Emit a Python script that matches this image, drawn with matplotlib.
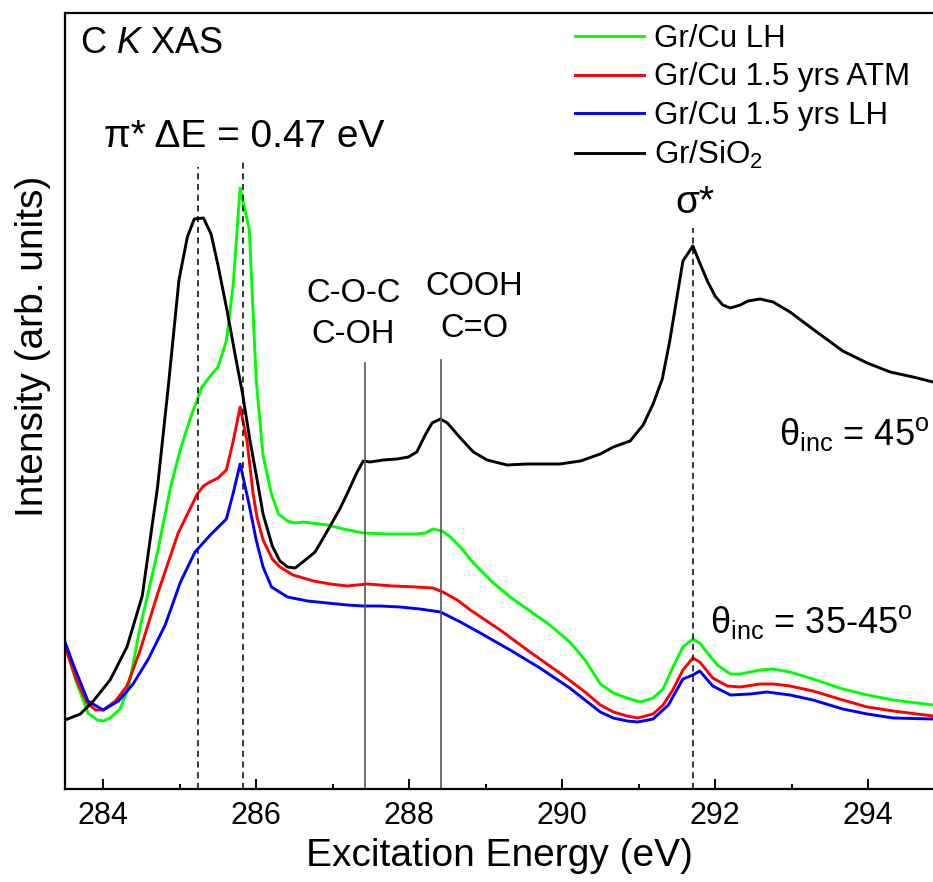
import matplotlib
matplotlib.use("Agg")
import matplotlib.pyplot as plt
from matplotlib.ticker import MultipleLocator

plt.rcParams["font.family"] = ["Liberation Sans", "DejaVu Sans"]
plt.rcParams["mathtext.fontset"] = "custom"
plt.rcParams["mathtext.rm"] = "Liberation Sans"
plt.rcParams["mathtext.it"] = "Liberation Sans:italic"

# Gr/SiO2 (black)
e_sio2 = [283.50, 283.70, 283.87, 284.09, 284.31, 284.51, 284.71, 284.85, 284.99, 285.10,
          285.19, 285.31, 285.41, 285.50, 285.62, 285.73, 285.82, 285.92, 286.01, 286.09,
          286.21, 286.31, 286.41, 286.51, 286.61, 286.77, 286.93, 287.10, 287.20, 287.32,
          287.40, 287.49, 287.66, 287.84, 287.99, 288.10, 288.21, 288.30, 288.41, 288.50,
          288.67, 288.84, 289.02, 289.28, 289.54, 289.97, 290.24, 290.50, 290.67, 290.89,
          291.06, 291.19, 291.31, 291.41, 291.50, 291.58, 291.71, 291.80, 291.90, 292.00,
          292.10, 292.20, 292.33, 292.43, 292.59, 292.76, 292.98, 293.33, 293.67, 293.99,
          294.29, 294.59, 294.85]
i_sio2 = [0.69, 0.75, 0.88, 1.09, 1.42, 1.93, 3.02, 4.02, 5.09, 5.52,
          5.70, 5.71, 5.55, 5.24, 4.78, 4.32, 3.96, 3.48, 3.10, 2.75,
          2.43, 2.28, 2.22, 2.21, 2.27, 2.37, 2.58, 2.81, 2.97, 3.17,
          3.28, 3.27, 3.29, 3.30, 3.32, 3.37, 3.54, 3.66, 3.70, 3.66,
          3.51, 3.37, 3.29, 3.24, 3.25, 3.25, 3.28, 3.35, 3.42, 3.48,
          3.64, 3.85, 4.10, 4.49, 4.91, 5.28, 5.43, 5.26, 5.08, 4.93,
          4.84, 4.81, 4.84, 4.88, 4.90, 4.87, 4.77, 4.57, 4.38, 4.26,
          4.17, 4.12, 4.07]

# Gr/Cu LH (green)
e_cu_lh = [283.50, 283.63, 283.80, 283.92, 284.00, 284.09, 284.22, 284.33, 284.48, 284.71,
           284.88, 285.01, 285.14, 285.29, 285.40, 285.50, 285.61, 285.70, 285.79, 285.91,
           286.00, 286.09, 286.20, 286.29, 286.41, 286.51, 286.61, 286.93, 287.14, 287.40,
           287.71, 288.10, 288.21, 288.31, 288.43, 288.54, 288.67, 288.84, 289.10, 289.32,
           289.58, 289.84, 290.10, 290.30, 290.50, 290.67, 290.85, 291.02, 291.19, 291.32,
           291.45, 291.58, 291.71, 291.80, 291.90, 292.03, 292.20, 292.33, 292.59, 292.76,
           292.98, 293.28, 293.67, 293.99, 294.33, 294.85]
i_cu_lh = [1.45, 1.11, 0.76, 0.69, 0.68, 0.71, 0.80, 1.01, 1.61, 2.37,
           3.02, 3.40, 3.71, 4.02, 4.13, 4.22, 4.48, 5.05, 6.01, 5.59,
           4.09, 3.33, 2.95, 2.75, 2.68, 2.66, 2.67, 2.64, 2.60, 2.56,
           2.55, 2.55, 2.56, 2.60, 2.58, 2.52, 2.42, 2.26, 2.06, 1.92,
           1.78, 1.64, 1.47, 1.29, 1.05, 0.96, 0.91, 0.87, 0.91, 1.00,
           1.22, 1.42, 1.50, 1.46, 1.36, 1.24, 1.15, 1.15, 1.19, 1.20,
           1.17, 1.10, 1.00, 0.94, 0.89, 0.84]

# Gr/Cu 1.5 yrs ATM (red)
e_cu_atm = [283.50, 283.66, 283.79, 283.90, 284.00, 284.16, 284.31, 284.48, 284.71, 284.98,
            285.23, 285.31, 285.42, 285.50, 285.61, 285.70, 285.79, 285.88, 285.96, 286.01,
            286.09, 286.21, 286.31, 286.48, 286.75, 286.97, 287.19, 287.45, 287.79, 288.10,
            288.31, 288.44, 288.63, 288.80, 289.19, 289.58, 289.97, 290.30, 290.50, 290.67,
            290.85, 290.99, 291.19, 291.32, 291.44, 291.58, 291.71, 291.80, 291.97, 292.16,
            292.33, 292.59, 292.76, 292.98, 293.28, 293.67, 293.99, 294.33, 294.85]
i_cu_atm = [1.42, 1.07, 0.86, 0.79, 0.79, 0.88, 1.03, 1.38, 1.95, 2.56,
            2.95, 3.03, 3.08, 3.11, 3.19, 3.48, 3.82, 3.48, 2.95, 2.72,
            2.49, 2.30, 2.22, 2.14, 2.08, 2.05, 2.03, 2.05, 2.03, 2.02,
            2.01, 1.97, 1.89, 1.79, 1.59, 1.37, 1.16, 0.97, 0.84, 0.77,
            0.73, 0.71, 0.75, 0.84, 0.98, 1.19, 1.31, 1.27, 1.11, 1.03,
            1.02, 1.05, 1.05, 1.03, 0.98, 0.89, 0.82, 0.78, 0.73]

# Gr/Cu 1.5 yrs LH (blue)
e_cu_old_lh = [283.50, 283.61, 283.80, 284.00, 284.20, 284.39, 284.59, 284.81, 285.01, 285.20,
               285.40, 285.61, 285.70, 285.79, 285.90, 286.00, 286.09, 286.20, 286.41, 286.67,
               286.93, 287.19, 287.40, 287.62, 287.88, 288.14, 288.41, 288.67, 288.93, 289.32,
               289.71, 290.10, 290.50, 290.67, 290.85, 290.99, 291.19, 291.39, 291.58, 291.71,
               291.80, 291.97, 292.20, 292.46, 292.68, 292.98, 293.28, 293.67, 293.99, 294.33,
               294.85]
i_cu_old_lh = [1.47, 1.24, 0.88, 0.79, 0.88, 1.05, 1.30, 1.64, 2.07, 2.37,
               2.54, 2.70, 2.96, 3.25, 2.87, 2.49, 2.22, 2.02, 1.92, 1.88,
               1.86, 1.84, 1.83, 1.83, 1.82, 1.80, 1.77, 1.67, 1.56, 1.39,
               1.21, 1.01, 0.77, 0.71, 0.68, 0.67, 0.70, 0.84, 1.10, 1.14,
               1.18, 1.03, 0.94, 0.95, 0.97, 0.94, 0.89, 0.80, 0.75, 0.71,
               0.70]

# marker energies (eV) and heights of the guide lines
pi_lines = [285.24, 285.83]
pi_tops = [6.22, 6.28]
sigma_line = 291.71
sigma_top = 5.61
group_lines = [287.42, 288.42]
group_tops = [4.26, 4.29]

fig = plt.figure(figsize=(9.33, 8.82), dpi=100)
ax = fig.add_axes([65 / 933, 1 - 789 / 882, 1 - 65 / 933, 776 / 882])

ax.plot(e_cu_lh, i_cu_lh, color="#00ff00", lw=2.1, label="Gr/Cu LH")
ax.plot(e_cu_atm, i_cu_atm, color="#ff0000", lw=2.1, label="Gr/Cu 1.5 yrs ATM")
ax.plot(e_cu_old_lh, i_cu_old_lh, color="#0000ff", lw=2.1, label="Gr/Cu 1.5 yrs LH")
ax.plot(e_sio2, i_sio2, color="black", lw=2.1, label="Gr/SiO$_2$")

# guide lines
for x, top in zip(pi_lines, pi_tops):
    ax.plot([x, x], [0, top], color="black", lw=1.1, ls=(0, (4, 3)))
ax.plot([sigma_line, sigma_line], [0, sigma_top], color="black", lw=1.1, ls=(0, (4, 3)))
for x, top in zip(group_lines, group_tops):
    ax.plot([x, x], [0, top], color="#555555", lw=1.2)

ax.set_xlim(283.5, 294.85)
ax.set_ylim(0, 7.76)
ax.set_yticks([])
ax.xaxis.set_major_locator(MultipleLocator(2))
ax.xaxis.set_minor_locator(MultipleLocator(1))
ax.tick_params(axis="x", which="major", direction="in", length=7, width=1.4,
               labelsize=22, pad=9)
ax.tick_params(axis="x", which="minor", direction="in", length=3.5, width=1.4)
for s in ["left", "bottom", "top"]:
    ax.spines[s].set_linewidth(1.6)
ax.spines["right"].set_visible(False)

ax.set_xlabel("Excitation Energy (eV)", fontsize=28, labelpad=5)
ax.set_ylabel("Intensity (arb. units)", fontsize=28)
ax.yaxis.set_label_coords(-0.016, 0.57)

# annotations
ax.text(283.70, 7.36, r"C $\mathit{K}$ XAS", fontsize=26, ha="left", va="baseline")
ax.text(285.84, 6.42, "π* ΔE = 0.47 eV", fontsize=28, ha="center", va="baseline")
ax.text(291.74, 5.76, "σ*", fontsize=28, ha="center", va="baseline")
ax.text(287.27, 4.87, "C-O-C", fontsize=23.5, ha="center", va="baseline")
ax.text(287.27, 4.46, "C-OH", fontsize=23.5, ha="center", va="baseline")
ax.text(288.85, 4.94, "COOH", fontsize=23.5, ha="center", va="baseline")
ax.text(288.85, 4.52, "C=O", fontsize=23.5, ha="center", va="baseline")
ax.text(294.80, 3.44, r"θ$_{\mathrm{inc}}$ = 45$^{\mathrm{o}}$", fontsize=26,
        ha="right", va="baseline")
ax.text(294.59, 1.56, r"θ$_{\mathrm{inc}}$ = 35-45$^{\mathrm{o}}$", fontsize=26,
        ha="right", va="baseline")

ax.legend(loc="upper left", bbox_to_anchor=(575 / 933, 1 - 24 / 882),
          bbox_transform=fig.transFigure, frameon=False, fontsize=22.5,
          handlelength=2.2, handletextpad=0.33, labelspacing=0.27,
          borderpad=0, borderaxespad=0)

fig.savefig("out.png", dpi=100)
